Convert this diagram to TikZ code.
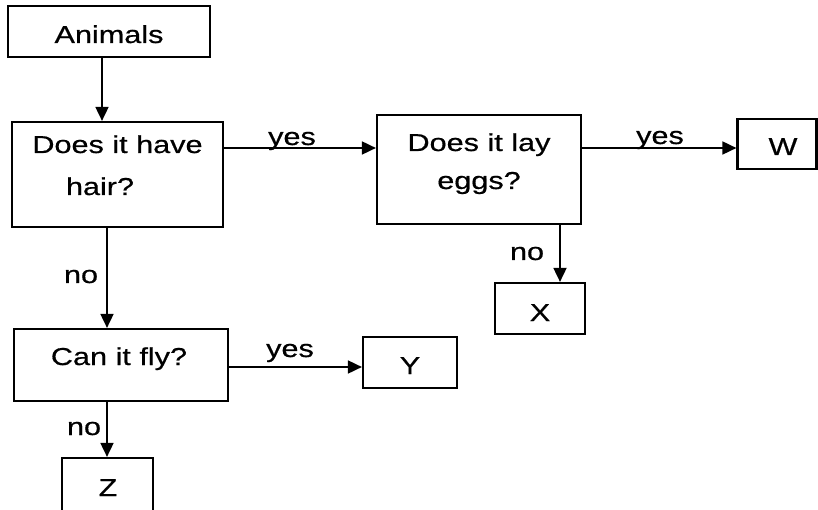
\documentclass[tikz,border=0pt]{standalone}
\usepackage{fontspec}
\setmainfont[FakeStretch=1.25,FakeBold=0.6]{Liberation Sans}
\usetikzlibrary{arrows.meta}
\begin{document}
\begin{tikzpicture}[x=1pt,y=-1pt,
  box/.style={draw, line width=2.2pt, inner sep=0pt, rectangle},
  txt/.style={inner sep=0pt, anchor=base, font=\fontsize{24.5}{28}\selectfont},
  lbl/.style={inner sep=0pt, anchor=base, font=\fontsize{24.5}{28}\selectfont},
  arr/.style={line width=1.8pt, -{Triangle[length=14pt,width=13pt]}}]
\useasboundingbox (0,0) rectangle (818,510);
% boxes
\node[box, minimum width=202pt, minimum height=51pt] (animals) at (109,31.5) {};
\node[box, minimum width=211pt, minimum height=105pt] (hair) at (117.5,174.5) {};
\node[box, minimum width=204pt, minimum height=109pt] (eggs) at (479,169.5) {};
\node[box, minimum width=79pt, minimum height=50pt] (w) at (777,144) {};
\node[box, minimum width=90pt, minimum height=51pt] (xbox) at (540,308.5) {};
\node[box, minimum width=214pt, minimum height=72pt] (fly) at (121,365) {};
\node[box, minimum width=94pt, minimum height=51pt] (ybox) at (410,362.5) {};
\node[box, minimum width=91pt, minimum height=56pt] (z) at (107.5,486) {};
% texts
\node[txt] (tAnimals) at (109,43) {Animals};
\node[txt] (tHair1) at (117.5,153) {Does it have};
\node[txt] (tHair2) at (100,195) {hair?};
\node[txt] (tEggs1) at (479,151) {Does it lay};
\node[txt] (tEggs2) at (479,189) {eggs?};
\node[txt] (tW) at (783,155) {W};
\node[txt] (tX) at (540,321) {X};
\node[txt] (tFly) at (119,365) {Can it fly?};
\node[txt] (tY) at (410,374) {Y};
\node[txt] (tZ) at (108,496) {Z};
% connectors
\draw[arr] ([xshift=-7pt]animals.south) -- ([xshift=-7pt]animals.south |- hair.north);
\draw[arr] ([yshift=26.5pt]hair.east) -- ([yshift=26.5pt]hair.east -| eggs.west);
\draw[arr] ([yshift=21.5pt]eggs.east) -- ([yshift=21.5pt]eggs.east -| w.west);
\draw[arr] ([xshift=81pt]eggs.south) -- ([xshift=81pt]eggs.south |- xbox.north);
\draw[arr] ([xshift=-10.5pt]hair.south) -- ([xshift=-10.5pt]hair.south |- fly.north);
\draw[arr] ([yshift=-2pt]fly.east) -- ([yshift=-2pt]fly.east -| ybox.west);
\draw[arr] ([xshift=-14pt]fly.south) -- ([xshift=-14pt]fly.south |- z.north);
% labels
\node[lbl] (l1) at (292,145) {yes};
\node[lbl] (l2) at (660,144) {yes};
\node[lbl] (l3) at (290,357) {yes};
\node[lbl] (l4) at (81,283) {no};
\node[lbl] (l5) at (527,260) {no};
\node[lbl] (l6) at (84,435) {no};
\end{tikzpicture}
\end{document}
